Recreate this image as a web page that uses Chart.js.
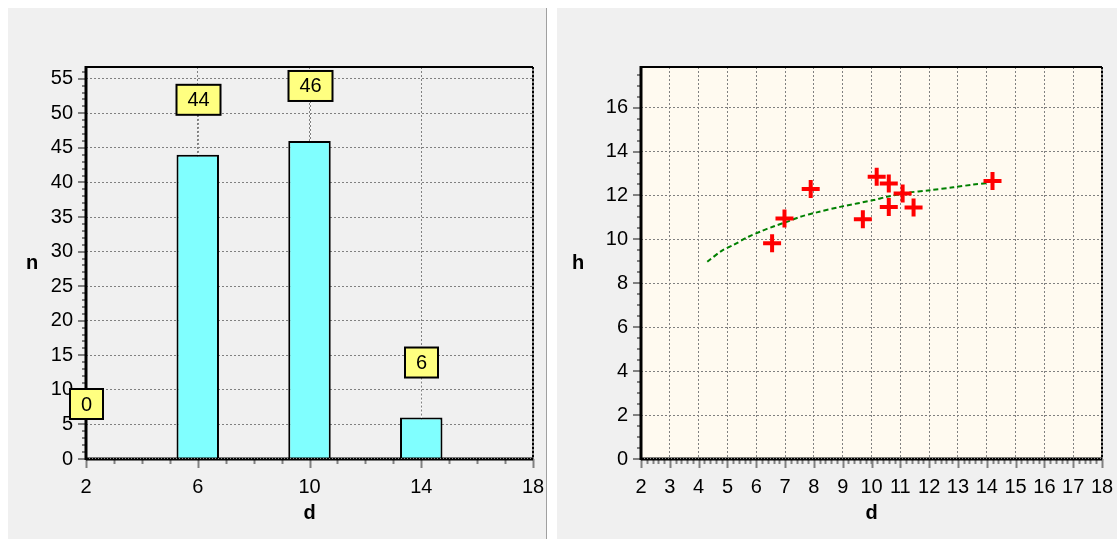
<!DOCTYPE html>
<html>
<head>
<meta charset="utf-8">
<script src="https://cdn.jsdelivr.net/npm/chart.js@4.4.0/dist/chart.umd.min.js"></script>
<style>
  body { margin: 0; background: #fff; width: 1117px; height: 539px; overflow: hidden; position: relative; }
  .panel { position: absolute; top: 8px; height: 531px; background: #f0f0f0; }
  #leftPanel { left: 8px; width: 538px; border-right: 1px solid #a0a0a0; }
  #rightPanel { left: 557px; width: 560px; }
  canvas { display: block; }
</style>
</head>
<body>
<div class="panel" id="leftPanel"><canvas id="histo" width="538" height="531"></canvas></div>
<div class="panel" id="rightPanel"><canvas id="nuage" width="560" height="531"></canvas></div>
<script>
// histogramme des diamètres
const classesD = [2, 6, 10, 14];
const effectifs = [0, 44, 46, 6];
const histoXTicks = [2, 6, 10, 14, 18];
const histoYTicks = [0, 5, 10, 15, 20, 25, 30, 35, 40, 45, 50, 55];

// nuage hauteur / diamètre
const arbresD = [6.55, 6.98, 7.89, 9.70, 10.18, 10.60, 10.60, 11.08, 11.46, 14.20];
const arbresH = [9.82, 10.95, 12.29, 10.92, 12.85, 12.55, 11.48, 12.09, 11.45, 12.66];
const courbeD = [4.30, 4.80, 5.20, 5.73, 6.13, 6.62, 7.06, 7.53, 8.10, 8.91, 10.07, 10.53, 11.23, 12.03, 12.84, 13.54, 14.05];
const courbeH = [8.98, 9.48, 9.74, 10.12, 10.35, 10.60, 10.80, 11.03, 11.23, 11.48, 11.79, 11.94, 12.12, 12.24, 12.37, 12.50, 12.57];
const nuageXTicks = [2, 3, 4, 5, 6, 7, 8, 9, 10, 11, 12, 13, 14, 15, 16, 17, 18];
const nuageYTicks = [0, 2, 4, 6, 8, 10, 12, 14, 16];

Chart.defaults.font.family = '"Liberation Sans", Arial, sans-serif';
Chart.defaults.color = '#000';

function axeX(ticks, min, max) {
    return {
        type: 'linear', min: min, max: max, offset: false,
        afterBuildTicks: s => { s.ticks = ticks.map(v => ({ value: v })); },
        afterFit: s => { s.height = 80; s.paddingLeft = 0; s.paddingRight = 0; },
        grid: { color: '#808080', lineWidth: 1, drawTicks: false, offset: false },
        border: { display: false, dash: [2, 2] },
        ticks: { font: { size: 20 }, padding: 16, maxRotation: 0, autoSkip: false },
        title: { display: true, text: 'd', font: { size: 20, weight: 'bold' }, padding: { top: 0, bottom: 14 } }
    };
}

function axeY(ticks, max, largeur) {
    return {
        type: 'linear', min: 0, max: max,
        afterBuildTicks: s => { s.ticks = ticks.map(v => ({ value: v })); },
        afterFit: s => { s.width = largeur; s.paddingTop = 0; s.paddingBottom = 0; },
        grid: { color: '#808080', lineWidth: 1, drawTicks: false },
        border: { display: false, dash: [2, 2] },
        ticks: { font: { size: 20 }, padding: 13, autoSkip: false }
    };
}

// fond, cadre et graduations (principales + secondaires)
const cadre = {
    id: 'cadre',
    beforeDraw(chart, args, opts) {
        const { ctx, chartArea: a } = chart;
        if (opts.fond) {
            ctx.save();
            ctx.fillStyle = opts.fond;
            ctx.fillRect(a.left, a.top, a.right - a.left, a.bottom - a.top);
            ctx.restore();
        }
    },
    afterDatasetsDraw(chart, args, opts) {
        const { ctx, chartArea: a, scales: { x, y } } = chart;
        ctx.save();
        ctx.strokeStyle = '#808080';
        ctx.lineWidth = 2;
        ctx.beginPath();
        for (let v = x.min; v <= x.max + 1e-6; v += opts.pasX) {
            const px = Math.round(x.getPixelForValue(v)) + 0.5;
            ctx.moveTo(px, a.bottom); ctx.lineTo(px, a.bottom + 5);
        }
        for (let v = y.min; v <= y.max + 1e-6; v += opts.pasY) {
            const py = Math.round(y.getPixelForValue(v));
            ctx.moveTo(a.left, py); ctx.lineTo(a.left - 4, py);
        }
        opts.ticksX.forEach(v => {
            const px = Math.round(x.getPixelForValue(v)) + 0.5;
            ctx.moveTo(px, a.bottom); ctx.lineTo(px, a.bottom + 9);
        });
        opts.ticksY.forEach(v => {
            const py = Math.round(y.getPixelForValue(v));
            ctx.moveTo(a.left, py); ctx.lineTo(a.left - 8, py);
        });
        ctx.stroke();

        // bord haut
        ctx.strokeStyle = '#000';
        ctx.lineWidth = 2;
        ctx.beginPath();
        ctx.moveTo(a.left, a.top); ctx.lineTo(a.right, a.top);
        ctx.stroke();
        // bord droit en pointillé
        ctx.strokeStyle = '#808080';
        ctx.beginPath();
        ctx.moveTo(a.right, a.top); ctx.lineTo(a.right, a.bottom);
        ctx.stroke();
        ctx.strokeStyle = '#000';
        ctx.setLineDash([2, 2]);
        ctx.stroke();
        ctx.setLineDash([]);
        // axe du bas
        ctx.lineWidth = 3;
        ctx.beginPath();
        ctx.moveTo(a.left, a.bottom); ctx.lineTo(a.right, a.bottom);
        ctx.stroke();
        ctx.strokeStyle = '#909090';
        ctx.lineWidth = 1;
        ctx.setLineDash([1, 2]);
        ctx.beginPath();
        ctx.moveTo(a.left, a.bottom - 0.5); ctx.lineTo(a.right, a.bottom - 0.5);
        ctx.stroke();
        ctx.setLineDash([]);
        // axe de gauche
        ctx.strokeStyle = '#000';
        ctx.lineWidth = 3;
        ctx.beginPath();
        ctx.moveTo(a.left, a.top - 1); ctx.lineTo(a.left, a.bottom + 1);
        ctx.stroke();

        // titre vertical non tourné
        ctx.fillStyle = '#000';
        ctx.font = 'bold 20px "Liberation Sans", Arial, sans-serif';
        ctx.textAlign = 'center';
        ctx.textBaseline = 'middle';
        ctx.fillText(opts.titreY, a.left - opts.decalTitre, (a.top + a.bottom) / 2);
        ctx.restore();
    }
};

// étiquettes jaunes au-dessus des barres
const etiquettes = {
    id: 'etiquettes',
    afterDatasetsDraw(chart) {
        const { ctx, scales: { x, y } } = chart;
        ctx.save();
        ctx.font = '20px "Liberation Sans", Arial, sans-serif';
        ctx.textAlign = 'center';
        ctx.textBaseline = 'middle';
        effectifs.forEach((v, i) => {
            const px = Math.round(x.getPixelForValue(classesD[i])) + 0.5;
            const haut = y.getPixelForValue(v);
            const cy = haut - 55;
            const w = Math.round(ctx.measureText(String(v)).width) + 22;
            const h = 30;
            if (v > 0) {
                ctx.lineWidth = 1;
                ctx.strokeStyle = '#fff';
                ctx.beginPath();
                ctx.moveTo(px, cy + h / 2); ctx.lineTo(px, haut);
                ctx.stroke();
                ctx.strokeStyle = '#808080';
                ctx.setLineDash([2, 2]);
                ctx.stroke();
                ctx.setLineDash([]);
            }
            ctx.fillStyle = '#ffff80';
            ctx.fillRect(px - w / 2, cy - h / 2, w, h);
            ctx.strokeStyle = '#000';
            ctx.lineWidth = 2;
            ctx.strokeRect(px - w / 2, cy - h / 2, w, h);
            ctx.fillStyle = '#000';
            ctx.fillText(String(v), px, cy + 1);
        });
        ctx.restore();
    }
};

new Chart(document.getElementById('histo'), {
    type: 'bar',
    data: {
        datasets: [{
            data: classesD.map((d, i) => ({ x: d, y: effectifs[i] })),
            backgroundColor: '#80ffff',
            borderColor: '#000',
            borderWidth: 2,
            borderSkipped: 'start',
            barPercentage: 0.38,
            categoryPercentage: 1
        }]
    },
    options: {
        responsive: false,
        devicePixelRatio: 1,
        animation: false,
        layout: { padding: { top: 59, right: 13, left: 0, bottom: 0 } },
        plugins: {
            legend: { display: false },
            tooltip: { enabled: false },
            cadre: { pasX: 1, pasY: 1, ticksX: histoXTicks, ticksY: histoYTicks, titreY: 'n', decalTitre: 54 }
        },
        scales: { x: axeX(histoXTicks, 2, 18), y: axeY(histoYTicks, 56.7, 78) }
    },
    plugins: [cadre, etiquettes]
});

new Chart(document.getElementById('nuage'), {
    type: 'scatter',
    data: {
        datasets: [{
            data: arbresD.map((d, i) => ({ x: d, y: arbresH[i] })),
            pointStyle: 'cross',
            pointRadius: 9,
            pointBorderWidth: 4,
            borderColor: '#ff0000',
            backgroundColor: '#ff0000'
        }, {
            data: courbeD.map((d, i) => ({ x: d, y: courbeH[i] })),
            showLine: true,
            borderColor: '#008000',
            borderWidth: 2,
            borderDash: [5, 3],
            pointRadius: 0,
            tension: 0.3
        }]
    },
    options: {
        responsive: false,
        devicePixelRatio: 1,
        animation: false,
        layout: { padding: { top: 59, right: 15, left: 0, bottom: 0 } },
        plugins: {
            legend: { display: false },
            tooltip: { enabled: false },
            cadre: { fond: '#fffaf0', pasX: 0.2, pasY: 0.5, ticksX: nuageXTicks, ticksY: nuageYTicks, titreY: 'h', decalTitre: 63 }
        },
        scales: { x: axeX(nuageXTicks, 2, 18), y: axeY(nuageYTicks, 17.85, 84) }
    },
    plugins: [cadre]
});
</script>
</body>
</html>
